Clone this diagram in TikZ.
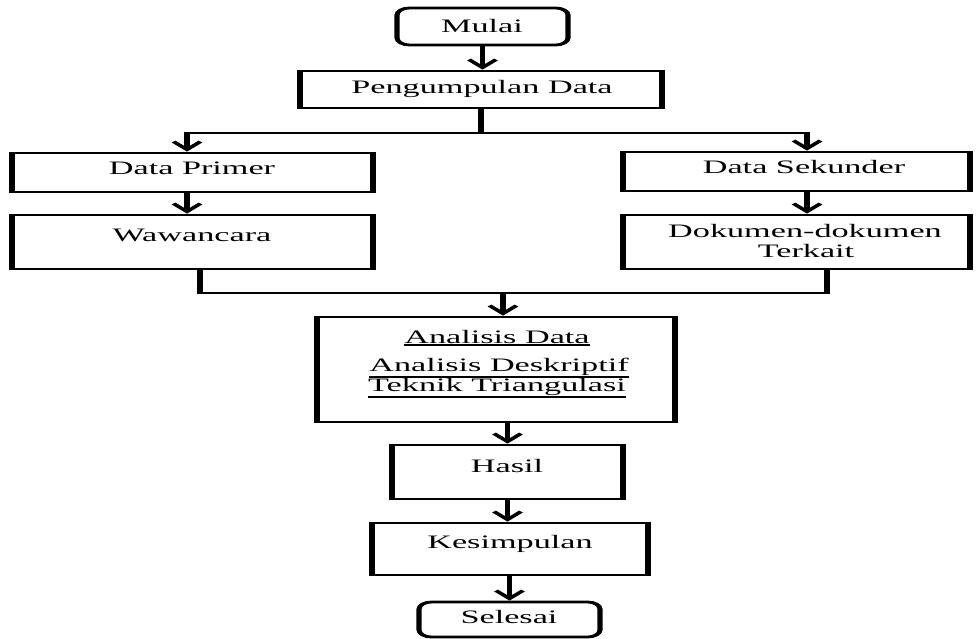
\documentclass[tikz,border=0pt]{standalone}
\usepackage{fontspec}
\setmainfont{Liberation Serif}
\usetikzlibrary{arrows.meta}
\newcommand{\thickul}[1]{\vtop{\hbox{#1}\kern1.2pt\hrule height 1.3pt}}
\begin{document}
\begin{tikzpicture}[x=1pt,y=-1pt]
\useasboundingbox (0,0) rectangle (980,639);
\begin{scope}[transform canvas={xscale=1.8}, x=0.5555556pt,
  box/.style={draw, line width=2.8pt, inner sep=0pt, minimum width={#1pt/1.8}},
  rbox/.style={box=#1, rounded corners=7pt},
  txt/.style={anchor=base, inner sep=0pt, font=\fontsize{19}{20}\selectfont},
  conn/.style={line width=2.8pt, line join=miter},
  arr/.style={conn, -{Straight Barb[length=8pt,width=15pt]}}]
% boxes
\node[rbox=171, minimum height=37] (Mulai) at (482.5,26.5) {};
\node[box=362, minimum height=37] (Peng) at (481,89.5) {};
\node[box=361, minimum height=39] (DP) at (192.5,172.5) {};
\node[box=361, minimum height=54] (Waw) at (192.5,242) {};
\node[box=347, minimum height=39] (DS) at (796.5,171.5) {};
\node[box=347, minimum height=54] (Dok) at (796.5,242) {};
\node[box=358, minimum height=105] (Ana) at (496,369.5) {};
\node[box=231, minimum height=54] (Has) at (507.5,472) {};
\node[box=276, minimum height=52] (Kes) at (510,549) {};
\node[rbox=181, minimum height=35] (Sel) at (509.5,619.5) {};
% texts
\node[txt] (tMulai) at (482,33) {Mulai};
\node[txt] (tPeng) at (482,94) {Pengumpulan Data};
\node[txt] (tDP) at (192,175) {Data Primer};
\node[txt] (tWaw) at (192,242) {Wawancara};
\node[txt] (tDS) at (804,174) {Data Sekunder};
\node[txt] (tDok1) at (805,237) {Dokumen-dokumen};
\node[txt] (tDok2) at (806,258) {Terkait};
\node[txt] (tAna1) at (497,343) {\thickul{Analisis Data}};
\node[txt] (tAna2) at (499,371) {\thickul{Analisis Deskriptif}};
\node[txt] (tAna3) at (497,391) {\thickul{Teknik Triangulasi}};
\node[txt] (tHas) at (507,472) {Hasil};
\node[txt] (tKes) at (510,548) {Kesimpulan};
\node[txt] (tSel) at (509,623) {Selesai};
% connectors
\coordinate (bl) at (187,133);
\coordinate (br) at (807,133);
\coordinate (jl) at (200,293);
\coordinate (jr) at (827,293);
\coordinate (jm) at (503,293);
\draw[arr] (Mulai.south) -- (Mulai.south |- Peng.north);
\draw[conn] (Peng.south) -- (Peng.south |- bl);
\draw[arr] (Peng.south |- bl) -| (bl |- DP.north);
\draw[arr] (Peng.south |- bl) -| (br |- DS.north);
\draw[arr] (bl |- DP.south) -- (bl |- Waw.north);
\draw[arr] (br |- DS.south) -- (br |- Dok.north);
\draw[conn] (jl |- Waw.south) -- (jl) -- (jr) -- (jr |- Dok.south);
\draw[arr] (jm) -- (jm |- Ana.north);
\draw[arr] (Has.north |- Ana.south) -- (Has.north);
\draw[arr] (Has.south) -- (Has.south |- Kes.north);
\draw[arr] (Sel.north |- Kes.south) -- (Sel.north);
\end{scope}
\end{tikzpicture}
\end{document}
